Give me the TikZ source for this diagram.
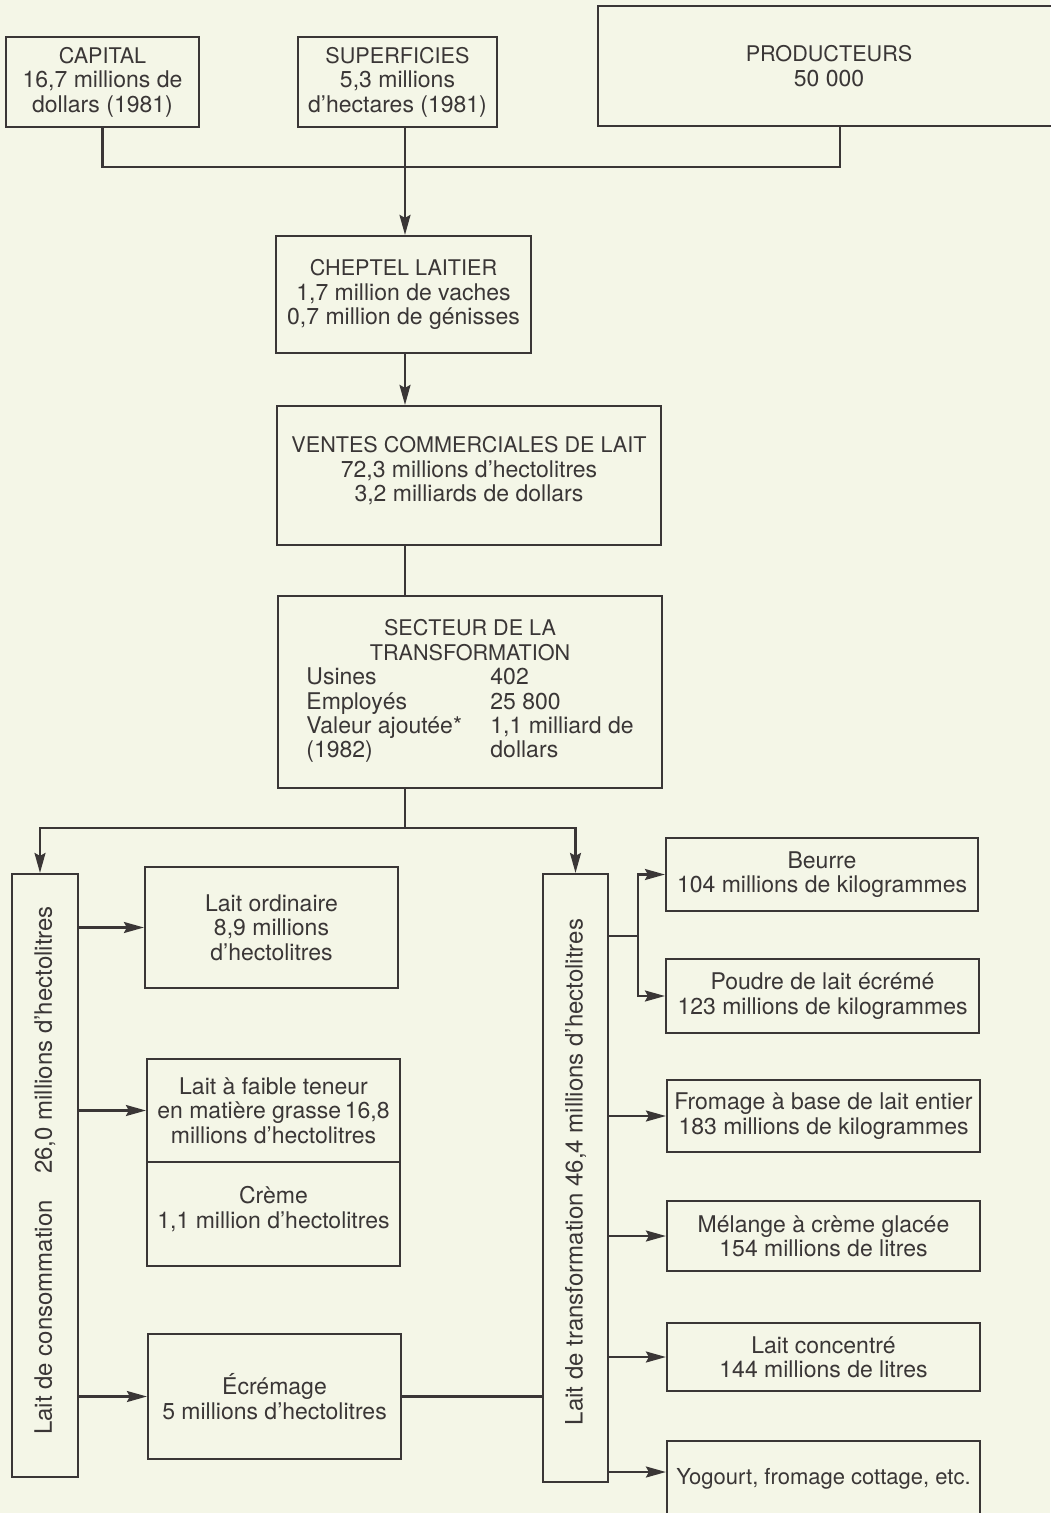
\documentclass[tikz,border=0pt]{standalone}
\usepackage{fontspec}
\setmainfont{TeX Gyre Heros}
\usetikzlibrary{arrows.meta}
\definecolor{ink}{RGB}{58,54,54}
\definecolor{paper}{RGB}{244,246,231}
\newcommand{\capsz}{\fontsize{10.8}{12.2}\selectfont}
\tikzset{
  bx/.style={draw=ink, line width=1.1pt, inner sep=0pt, align=center,
    font=\fontsize{11.5}{12.2}\selectfont, text=ink},
  arr/.style={-{Stealth[length=10pt,width=5.5pt,inset=1.5pt]}},
  vlab/.style={rotate=90, font=\fontsize{12}{12.2}\selectfont, text=ink, inner sep=0pt}
}
\begin{document}
\begin{tikzpicture}[x=0.5pt,y=-0.5pt,line width=1.1pt,color=ink]
\fill[paper] (0,0) rectangle (1050,1513);
\useasboundingbox (0,0) rectangle (1050,1513);

% top row
\node[bx, minimum width=96.5pt, minimum height=45pt] (cap) at (102.5,82)
  {{\capsz CAPITAL}\\16,7 millions de\\dollars (1981)};
\node[bx, minimum width=99.5pt, minimum height=45pt] (sup) at (397.5,82)
  {{\capsz SUPERFICIES}\\5,3 millions\\d’hectares (1981)};
\node[bx, minimum width=231pt, minimum height=60pt] (prod) at (829,66)
  {\capsz PRODUCTEURS\\50 000};

\node[bx, minimum width=127.5pt, minimum height=58.5pt] (chep) at (403.5,294.5)
  {{\capsz CHEPTEL LAITIER}\\1,7 million de vaches\\0,7 million de génisses};

\node[bx, minimum width=192pt, minimum height=69.5pt] (ventes) at (469,475.5)
  {\begin{tabular}{@{}c@{}}{\capsz VENTES COMMERCIALES DE LAIT}\\72,3 millions d’hectolitres\\3,2 milliards de dollars\\[3pt]\end{tabular}};

\node[bx, minimum width=192pt, minimum height=96pt] (sect) at (470,692)
  {\begin{tabular}{@{}p{92pt}@{}l@{}}
  \multicolumn{2}{@{}c@{}}{\capsz SECTEUR DE LA}\\
  \multicolumn{2}{@{}c@{}}{\capsz TRANSFORMATION}\\
  Usines & 402\\
  Employés & 25 800\\
  Valeur ajoutée* & 1,1 milliard de\\
  (1982) & dollars
  \end{tabular}};

% left column
\node[bx, minimum width=33pt, minimum height=301.5pt] (lc) at (45,1175.5) {};
\node[vlab] (lct) at ([yshift=2.5pt]lc.center) {Lait de consommation\hspace{1.1em}26,0 millions d’hectolitres};

\node[bx, minimum width=126.5pt, minimum height=60.5pt] (ord) at (271.5,927.5)
  {Lait ordinaire\\8,9 millions\\d’hectolitres};
\node[bx, minimum width=126.5pt, minimum height=51.5pt] (faible) at (273.5,1110.5)
  {Lait à faible teneur\\en matière grasse\,16,8\\millions d’hectolitres};
\node[bx, minimum width=126.5pt, minimum height=52pt] (creme) at (273.5,1214)
  {\begin{tabular}{@{}c@{}}Crème\\1,1 million d’hectolitres\\[3pt]\end{tabular}};
\node[bx, minimum width=126.5pt, minimum height=62.5pt] (ecr) at (274.5,1396.5)
  {Écrémage\\5 millions d’hectolitres};

% right column
\node[bx, minimum width=32.5pt, minimum height=304pt] (rc) at (575.5,1178) {};
\node[vlab] (rct) at ([yshift=3pt]rc.center) {Lait de transformation 46,4 millions d’hectolitres};

\node[bx, minimum width=156pt, minimum height=36.5pt] (beurre) at (822,874.5)
  {Beurre\\104 millions de kilogrammes};
\node[bx, minimum width=156.5pt, minimum height=37pt] (poudre) at (822.5,996)
  {Poudre de lait écrémé\\123 millions de kilogrammes};
\node[bx, minimum width=156.5pt, minimum height=36pt] (fromage) at (823.5,1116)
  {Fromage à base de lait entier\\183 millions de kilogrammes};
\node[bx, minimum width=156.5pt, minimum height=35pt] (melange) at (823.5,1236)
  {Mélange à crème glacée\\154 millions de litres};
\node[bx, minimum width=156.5pt, minimum height=34pt] (conc) at (823.5,1357)
  {Lait concentré\\144 millions de litres};
\node[bx, minimum width=156.5pt, minimum height=38pt, font=\fontsize{11}{12.2}\selectfont] (yog) at (823.5,1479)
  {Yogourt, fromage cottage, etc.};

% connectors
\coordinate (mx) at (405,0);
\coordinate (j1) at (405,167);
\coordinate (j2) at (405,828);
\coordinate (j3) at (638,936);
\coordinate (yin) at ([yshift=3.5pt]yog.west);

\draw (cap.south) |- (j1) -| ([xshift=5.5pt]prod.south);
\draw[arr] (sup.south -| mx) -- (chep.north -| mx);
\draw[arr] (chep.south -| mx) -- (ventes.north -| mx);
\draw (ventes.south -| mx) -- (sect.north -| mx);
\draw (sect.south -| mx) -- (j2);
\draw[arr] (j2) -| ([xshift=-2.5pt]lc.north);
\draw[arr] (j2) -| (rc.north);

\draw[arr] (lc.east |- ord.west) -- (ord.west);
\draw[arr] (lc.east |- faible.west) -- (faible.west);
\draw[arr] (lc.east |- ecr.west) -- (ecr.west);
\draw (ecr.east) -- (rc.west |- ecr.east);

\draw (rc.east |- j3) -- (j3);
\draw[arr] (j3) |- (beurre.west);
\draw[arr] (j3) |- (poudre.west);
\draw[arr] (rc.east |- fromage.west) -- (fromage.west);
\draw[arr] (rc.east |- melange.west) -- (melange.west);
\draw[arr] (rc.east |- conc.west) -- (conc.west);
\draw[arr] (rc.east |- yin) -- (yin);
\end{tikzpicture}
\end{document}
